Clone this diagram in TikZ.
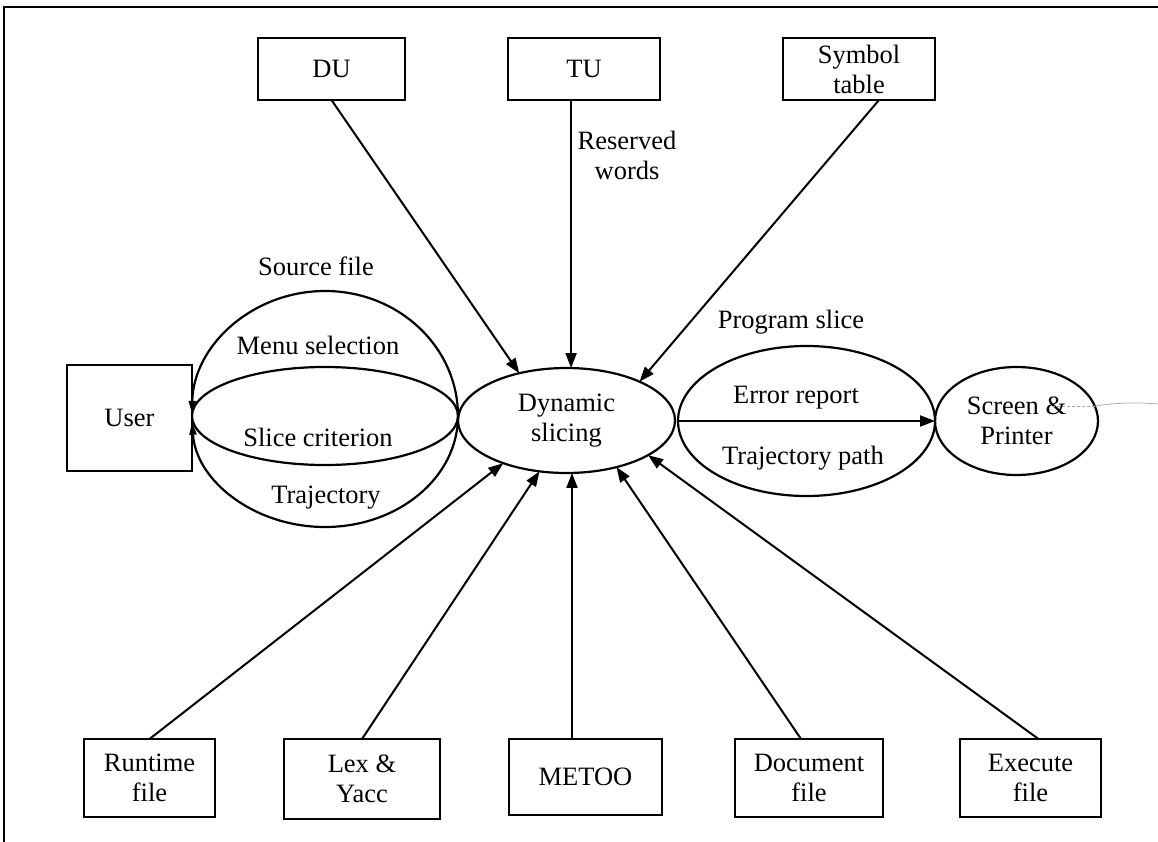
\documentclass[tikz,border=0pt]{standalone}
\usepackage{fontspec}
\setmainfont{Liberation Serif}
\usetikzlibrary{arrows.meta,shapes.geometric}
\begin{document}
\begin{tikzpicture}[x=1pt,y=-1pt,
  every node/.style={font=\fontsize{26.5}{30}\selectfont, inner sep=0pt, outer sep=0pt},
  box/.style={draw, line width=2.2pt, rectangle, align=center},
  oval/.style={draw, line width=2.2pt, ellipse, align=center},
  flow/.style={line width=2pt, -{Triangle[length=15pt,width=11pt]}},
  loopflow/.style={line width=2.2pt, -{Triangle[length=13pt,width=7pt]}},
  plain/.style={line width=2.2pt},
  lbl/.style={align=center},
  stray/.style={gray!70, line width=0.7pt}]
\useasboundingbox (0,0) rectangle (1158,842);

% page frame (top and left edges)
\draw[line width=2pt] (1158,7) -- (4,7) -- (4,842);

% external entities, top row
\node[box, minimum width=147, minimum height=62] (du)  at (331.5,69) {DU};
\node[box, minimum width=152, minimum height=62] (tu)  at (584,69)   {TU};
\node[box, minimum width=152, minimum height=62] (sym) at (859,69)   {Symbol\\table};

% user
\node[box, minimum width=125, minimum height=106] (user) at (129.5,418) {User};

% external entities, bottom row
\node[box, minimum width=131, minimum height=78] (run)   at (149.5,778) {Runtime\\file};
\node[box, minimum width=156, minimum height=80] (lex)   at (362,779)   {Lex \&\\Yacc};
\node[box, minimum width=153, minimum height=76] (metoo) at (585.5,777) {METOO};
\node[box, minimum width=148, minimum height=78] (doc)   at (809,778)   {Document\\file};
\node[box, minimum width=141, minimum height=78] (exe)   at (1030.5,778) {Execute\\file};

% processes
\node[oval, minimum width=217, minimum height=105] (dyn)  at (566.5,420.5) {Dynamic\\slicing};
\node[oval, minimum width=257, minimum height=150] (prog) at (806.5,421) {};
\node[oval, minimum width=163, minimum height=108] (scr)  at (1016.5,421) {Screen \&\\Printer};

% data flows between user and the slicer
\coordinate (eyeR) at (458,416);
\draw[loopflow] (eyeR) arc[start angle=0, end angle=-179, x radius=133, y radius=125];
\draw[loopflow] (eyeR) arc[start angle=0, end angle=177, x radius=133, y radius=111];
\draw[plain] (eyeR) arc[start angle=0, end angle=-180, x radius=133, y radius=49];
\draw[plain] (eyeR) arc[start angle=0, end angle=180, x radius=133, y radius=49];

\node[lbl] (lsrc)  at (316,266) {Source file};
\node[lbl] (lmenu) at (318,345) {Menu selection};
\node[lbl] (lcrit) at (318,437) {Slice criterion};
\node[lbl] (ltraj) at (326,498) {Trajectory};

% flows into the slicer from the top
\draw[flow] (du.south) -- (dyn.135);
\draw[flow] (tu.south -| dyn.85) -- (dyn.85);
\draw[flow] ([xshift=20pt]sym.south) -- (dyn.28);
\node[lbl] (lres) at (627,155) {Reserved\\words};

% flows into the slicer from the bottom
\draw[flow] (run.north) -- (dyn.214);
\draw[flow] (lex.north) -- (dyn.242);
\draw[flow] (metoo.north -| dyn.276) -- (dyn.276);
\draw[flow] ([xshift=-8pt]doc.north) -- (dyn.317);
\draw[flow] ([xshift=8pt]exe.north) -- (dyn.337);

% output side
\draw[flow] (prog.west) -- (scr.west);
\node[lbl] (lprog) at (791,322) {Program slice};
\node[lbl] (lerr)  at (796,398) {Error report};
\node[lbl] (lpath) at (803,458) {Trajectory path};

% faint pen stroke through the output node
\coordinate (s0) at (1052,406);
\coordinate (s1) at (1095,406);
\coordinate (s2) at (1158,404);
\draw[stray, densely dashed] (s0) -- (s1);
\draw[stray] (s1) .. controls (1115,403) and (1135,402) .. (s2);
\end{tikzpicture}
\end{document}
